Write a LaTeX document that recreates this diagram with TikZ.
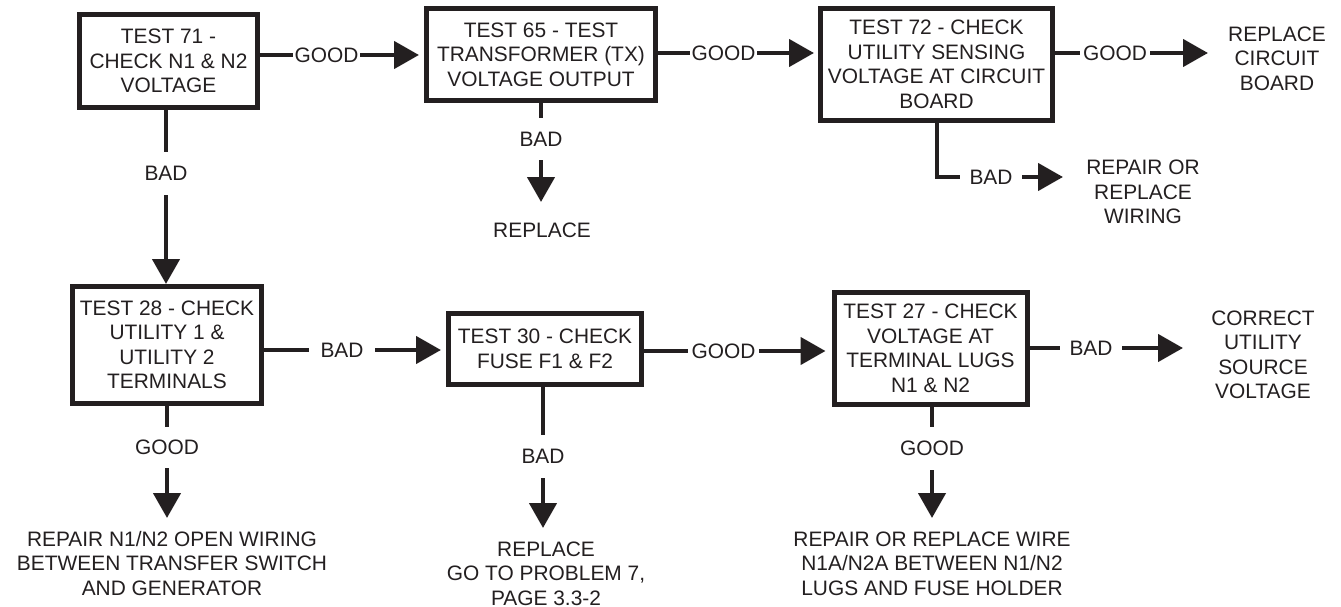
\documentclass[tikz,border=0pt]{standalone}
\usepackage{fontspec}
\setmainfont{Liberation Sans}
\usetikzlibrary{arrows.meta}
\definecolor{ink}{RGB}{35,31,32}
\begin{document}
\begin{tikzpicture}[x=1pt,y=-1pt,
  every node/.style={font=\fontsize{20.9}{24.5}\selectfont, text=ink},
  box/.style={draw=ink, line width=5pt, align=center, inner sep=0pt},
  lab/.style={inner sep=0pt},
  outtext/.style={align=center, inner sep=0pt},
  conn/.style={draw=ink, line width=4.5pt},
  arr/.style={conn, -{Triangle[length=25pt,width=27pt]}},
]
\useasboundingbox (0,0) rectangle (1341,607);

% boxes
\node[box, minimum width=178pt, minimum height=93pt] (b1) at (168.5,61) {TEST 71 -\\CHECK N1 \& N2\\VOLTAGE};
\node[box, minimum width=229pt, minimum height=92pt] (b2) at (541,54.5) {TEST 65 - TEST\\TRANSFORMER (TX)\\VOLTAGE OUTPUT};
\node[box, minimum width=232pt, minimum height=112pt] (b3) at (936.5,64.5) {TEST 72 - CHECK\\UTILITY SENSING\\VOLTAGE AT CIRCUIT\\BOARD};
\node[box, minimum width=189pt, minimum height=117pt] (b4) at (167,345) {TEST 28 - CHECK\\UTILITY 1 \&\\UTILITY 2\\TERMINALS};
\node[box, minimum width=193pt, minimum height=71pt] (b5) at (545,349) {TEST 30 - CHECK\\FUSE F1 \& F2};
\node[box, minimum width=193pt, minimum height=112pt] (b6) at (930.5,348.5) {TEST 27 - CHECK\\VOLTAGE AT\\TERMINAL LUGS\\N1 \& N2};

% outcome texts
\node[outtext] (o1) at (542,230) {REPLACE};
\node[outtext] (o2) at (1277,58.5) {REPLACE\\CIRCUIT\\BOARD};
\node[outtext] (o3) at (1143,192) {REPAIR OR\\REPLACE\\WIRING};
\node[outtext] (o4) at (172,563.5) {REPAIR N1/N2 OPEN WIRING\\BETWEEN TRANSFER SWITCH\\AND GENERATOR};
\node[outtext] (o5) at (546,573.5) {REPLACE\\GO TO PROBLEM 7,\\PAGE 3.3-2};
\node[outtext] (o6) at (932,563.5) {REPAIR OR REPLACE WIRE\\N1A/N2A BETWEEN N1/N2\\LUGS AND FUSE HOLDER};
\node[outtext] (o7) at (1263,355) {CORRECT\\UTILITY\\SOURCE\\VOLTAGE};

% labels
\node[lab, minimum width=67pt] (g1) at (326.5,55) {GOOD};
\node[lab, minimum width=67pt] (g2) at (723.5,53) {GOOD};
\node[lab, minimum width=70pt] (g3) at (1115,53) {GOOD};
\node[lab, minimum width=62pt] (bd3) at (991,177) {BAD};
\node[lab, minimum height=42pt] (bd2) at (541,139) {BAD};
\node[lab, minimum height=43pt] (bd1) at (166,173.5) {BAD};
\node[lab, minimum width=66pt] (bd4) at (342,350) {BAD};
\node[lab, minimum width=71pt] (g5) at (723.5,351) {GOOD};
\node[lab, minimum width=62pt] (bd6) at (1091,348) {BAD};
\node[lab, minimum height=41pt] (g4) at (167,447.5) {GOOD};
\node[lab, minimum height=43pt] (bd5) at (543,456.5) {BAD};
\node[lab, minimum height=43pt] (g6) at (932,448.5) {GOOD};

% free-end coordinates
\coordinate (k3) at (937,177);
\coordinate (t2) at (1208,53);
\coordinate (t3) at (1063,177);
\coordinate (t1) at (541,202);
\coordinate (t7) at (1183,348);
\coordinate (t4) at (167,518);
\coordinate (t5) at (543,528);
\coordinate (t6) at (932,518);

% connectors
\draw[conn] (b1.east |- g1) -- (g1.west);
\draw[arr, shorten >=5pt] (g1.east) -- (g1.east -| b2.west);

\draw[conn] (b2.east |- g2) -- (g2.west);
\draw[arr, shorten >=4pt] (g2.east) -- (g2.east -| b3.west);

\draw[conn] (b3.east |- g3) -- (g3.west);
\draw[arr] (g3.east) -- (t2);

\draw[conn] (k3 |- b3.south) -- (k3) -- (bd3.west);
\draw[arr] (bd3.east) -- (t3);

\draw[conn] (bd2.north |- b2.south) -- (bd2.north);
\draw[arr] (bd2.south) -- (t1);

\draw[conn] (bd1.north |- b1.south) -- (bd1.north);
\draw[arr] (bd1.south) -- (bd1.south |- b4.north);

\draw[conn] (b4.east |- bd4) -- (bd4.west);
\draw[arr, shorten >=5pt] (bd4.east) -- (bd4.east -| b5.west);

\draw[conn] (b5.east |- g5) -- (g5.west);
\draw[arr, shorten >=6pt] (g5.east) -- (g5.east -| b6.west);

\draw[conn] (b6.east |- bd6) -- (bd6.west);
\draw[arr] (bd6.east) -- (t7);

\draw[conn] (g4.north |- b4.south) -- (g4.north);
\draw[arr] (g4.south) -- (t4);

\draw[conn] (bd5.north |- b5.south) -- (bd5.north);
\draw[arr] (bd5.south) -- (t5);

\draw[conn] (g6.north |- b6.south) -- (g6.north);
\draw[arr] (g6.south) -- (t6);
\end{tikzpicture}
\end{document}
